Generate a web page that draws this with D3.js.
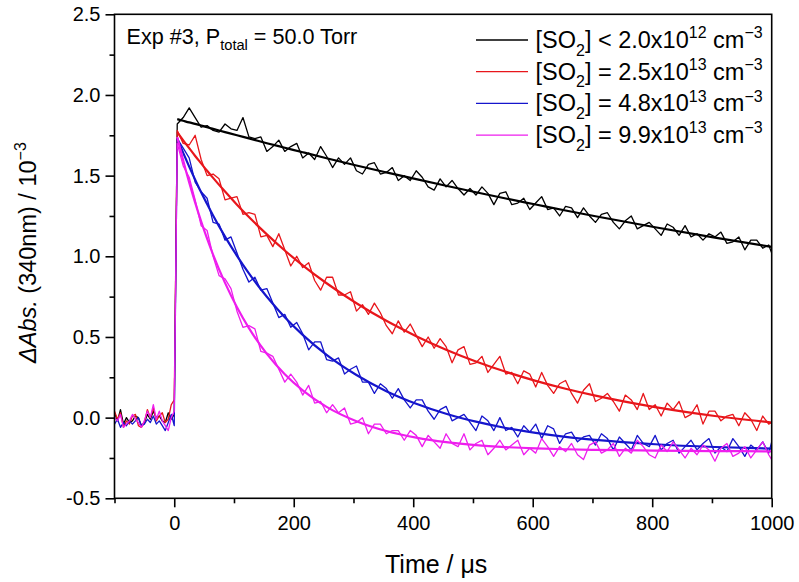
<!DOCTYPE html>
<html><head><meta charset="utf-8">
<script src="https://cdn.jsdelivr.net/npm/d3@7"></script>
<style>body{margin:0;background:#fff}svg{display:block}text{font-family:"Liberation Sans",Arial,sans-serif;fill:#000}</style>
</head><body>
<svg id="chart" width="799" height="582"></svg>
<script>
// ---- data (time in µs, ΔAbs in 10^-3) ----
const timeUs = [-100,-95,-90,-85,-80,-75,-70,-65,-60,-55,-50,-45,-40,-35,-30,-25,-20,-15,-10,-5,0,
5,15,25,35,45,55,65,75,85,95,105,115,125,135,145,155,165,175,185,195,205,215,225,235,245,255,265,275,285,295,
305,315,325,335,345,355,365,375,385,395,405,415,425,435,445,455,465,475,485,495,505,515,525,535,545,555,565,575,585,595,
605,615,625,635,645,655,665,675,685,695,705,715,725,735,745,755,765,775,785,795,805,815,825,835,845,855,865,875,885,895,
905,915,925,935,945,955,965,975,985,995,1000];

const absBlack = [0.03,-0.02,0.05,-0.04,0.00,-0.03,-0.02,0.01,0.00,-0.05,-0.03,0.02,-0.01,0.04,0.00,0.01,-0.02,-0.03,0.03,-0.01,0.02,
1.82,1.86,1.92,1.86,1.80,1.81,1.78,1.77,1.82,1.79,
1.78,1.86,1.74,1.73,1.74,1.65,1.68,1.72,1.65,1.68,
1.70,1.61,1.64,1.60,1.68,1.62,1.55,1.61,1.57,1.61,
1.53,1.51,1.57,1.58,1.51,1.52,1.55,1.47,1.50,1.47,
1.53,1.49,1.43,1.41,1.48,1.43,1.47,1.42,1.38,1.42,
1.38,1.43,1.39,1.32,1.39,1.40,1.32,1.33,1.36,1.29,
1.33,1.37,1.29,1.30,1.25,1.31,1.30,1.24,1.30,1.25,
1.21,1.26,1.27,1.21,1.17,1.22,1.25,1.17,1.19,1.21,
1.17,1.13,1.20,1.18,1.13,1.19,1.12,1.14,1.10,1.14,
1.12,1.15,1.08,1.09,1.12,1.04,1.10,1.10,1.05,1.07,
1.02];

const absRed = [0.04,-0.01,0.03,-0.06,-0.02,-0.04,0.01,0.02,-0.05,-0.06,-0.03,0.05,0.00,0.06,-0.02,0.01,0.03,-0.03,-0.01,0.08,0.11,
1.78,1.70,1.69,1.75,1.60,1.50,1.51,1.48,1.35,1.36,
1.37,1.26,1.27,1.26,1.12,1.13,1.06,1.14,1.04,0.94,
1.00,0.93,0.96,0.85,0.79,0.87,0.87,0.76,0.76,0.78,
0.66,0.70,0.64,0.71,0.65,0.57,0.52,0.60,0.53,0.58,
0.51,0.44,0.50,0.43,0.49,0.44,0.34,0.42,0.44,0.33,
0.34,0.38,0.28,0.33,0.38,0.27,0.28,0.21,0.29,0.27,
0.19,0.28,0.20,0.15,0.21,0.23,0.15,0.09,0.17,0.21,
0.10,0.12,0.15,0.10,0.04,0.14,0.11,0.05,0.15,0.05,
0.08,0.01,0.09,0.05,0.10,0.00,0.02,0.08,-0.04,0.04,
0.04,-0.02,0.01,0.02,-0.05,0.03,-0.01,-0.08,0.01,-0.04,
-0.03];

const absBlue = [-0.04,-0.01,-0.06,-0.03,-0.05,-0.02,-0.04,-0.02,0.00,-0.05,-0.04,-0.01,-0.03,0.01,-0.04,-0.02,-0.05,-0.08,-0.03,0.02,-0.05,
1.73,1.67,1.61,1.46,1.40,1.36,1.21,1.20,1.10,1.12,
1.02,0.92,0.84,0.87,0.79,0.80,0.71,0.62,0.64,0.56,
0.59,0.52,0.42,0.47,0.47,0.36,0.35,0.37,0.27,0.30,
0.32,0.22,0.22,0.15,0.21,0.18,0.12,0.18,0.11,0.06,
0.11,0.11,0.04,-0.01,0.05,0.07,-0.02,0.00,0.02,-0.03,
-0.08,0.01,-0.02,-0.08,0.00,-0.08,-0.06,-0.12,-0.05,-0.09,
-0.04,-0.13,-0.05,-0.07,-0.16,-0.10,-0.09,-0.15,-0.12,-0.11,
-0.17,-0.10,-0.13,-0.20,-0.12,-0.16,-0.20,-0.11,-0.16,-0.18,
-0.11,-0.20,-0.16,-0.14,-0.22,-0.18,-0.14,-0.20,-0.16,-0.13,
-0.22,-0.18,-0.21,-0.13,-0.18,-0.24,-0.17,-0.20,-0.15,-0.22,
-0.15];

const absMagenta = [0.00,-0.02,0.02,-0.06,-0.04,-0.02,0.02,-0.01,-0.03,-0.06,-0.02,0.04,0.00,0.08,-0.01,0.04,-0.02,-0.05,-0.08,0.00,0.04,
1.70,1.56,1.49,1.35,1.19,1.16,1.00,0.88,0.86,0.80,
0.66,0.56,0.57,0.55,0.41,0.40,0.38,0.30,0.22,0.27,
0.22,0.14,0.20,0.09,0.10,0.03,0.08,0.03,0.06,-0.04,
-0.03,0.00,-0.10,-0.04,-0.04,-0.10,-0.08,-0.08,-0.14,-0.08,
-0.11,-0.18,-0.11,-0.15,-0.19,-0.10,-0.16,-0.18,-0.10,-0.20,
-0.16,-0.14,-0.23,-0.19,-0.14,-0.20,-0.17,-0.14,-0.23,-0.19,
-0.22,-0.13,-0.18,-0.24,-0.18,-0.21,-0.16,-0.23,-0.26,-0.17,
-0.15,-0.22,-0.20,-0.16,-0.24,-0.19,-0.22,-0.14,-0.18,-0.23,
-0.25,-0.17,-0.21,-0.15,-0.20,-0.25,-0.19,-0.23,-0.17,-0.20,
-0.27,-0.19,-0.16,-0.24,-0.22,-0.18,-0.25,-0.20,-0.15,-0.23,
-0.26];

// fitted decay curves
const fitTime = [5,15,25,35,45,55,65,85,105,125,155,185,215,255,305,355,405,455,505,555,605,655,705,805,905,1000];
const fitBlack = [1.850,1.840,1.830,1.821,1.811,1.800,1.790,1.770,1.750,1.731,1.701,1.673,1.645,1.608,1.563,1.520,1.478,1.437,1.397,1.358,1.321,1.284,1.248,1.180,1.116,1.058];
const fitRed = [1.770,1.719,1.670,1.622,1.576,1.530,1.486,1.401,1.320,1.243,1.136,1.036,0.944,0.833,0.709,0.600,0.505,0.421,0.348,0.284,0.228,0.179,0.136,0.065,0.010,-0.030];
const fitBlue = [1.730,1.641,1.556,1.475,1.397,1.324,1.253,1.122,1.003,0.894,0.749,0.622,0.513,0.389,0.264,0.164,0.086,0.024,-0.025,-0.064,-0.094,-0.119,-0.138,-0.165,-0.182,-0.192];
const fitMagenta = [1.740,1.594,1.458,1.333,1.217,1.110,1.011,0.835,0.684,0.555,0.395,0.269,0.169,0.067,-0.022,-0.083,-0.124,-0.152,-0.171,-0.183,-0.191,-0.196,-0.200,-0.204,-0.207,-0.209];

const legendRelation = ["<","=","=","="];
const legendMantissa = ["2.0","2.5","4.8","9.9"];
const legendExponent = ["12","13","13","13"];

const xTicks = [0,200,400,600,800,1000];
const xMinorTicks = [-100,100,300,500,700,900];
const yTicks = [-0.5,0.0,0.5,1.0,1.5,2.0,2.5];
const yMinorTicks = [-0.25,0.25,0.75,1.25,1.75,2.25];

// ---- drawing ----
const colors = ["#000000","#e8161b","#1515cc","#ee1eee"];
const dataSets = [absBlack, absRed, absBlue, absMagenta];
const fitSets = [fitBlack, fitRed, fitBlue, fitMagenta];

const svg = d3.select("#chart");
const x = d3.scaleLinear().domain([-100,1000]).range([114.5,771.7]);
const y = d3.scaleLinear().domain([-0.5,2.5]).range([498.3,14.3]);

svg.append("clipPath").attr("id","clip").append("rect")
  .attr("x",x(-100)).attr("y",y(2.5)).attr("width",x(1000)-x(-100)).attr("height",y(-0.5)-y(2.5));

const plot = svg.append("g").attr("clip-path","url(#clip)");
const dataLine = d3.line().x((d,i)=>x(timeUs[i])).y(d=>y(d));
const fitLine = d3.line().x((d,i)=>x(fitTime[i])).y(d=>y(d)).curve(d3.curveMonotoneX);

dataSets.forEach((ds,k)=>{
  plot.append("path").attr("d",dataLine(ds)).attr("fill","none")
    .attr("stroke",colors[k]).attr("stroke-width",1.3).attr("stroke-linejoin","round");
  plot.append("path").attr("d",fitLine(fitSets[k])).attr("fill","none")
    .attr("stroke",colors[k]).attr("stroke-width",2.2).attr("stroke-linejoin","round");
});

// frame
svg.append("rect").attr("x",x(-100)).attr("y",y(2.5)).attr("width",x(1000)-x(-100)).attr("height",y(-0.5)-y(2.5))
  .attr("fill","none").attr("stroke","#000").attr("stroke-width",1.6);

const fmt = d => d.toFixed(1);
const gx = svg.append("g").attr("transform",`translate(0,${y(-0.5)})`)
  .call(d3.axisBottom(x).tickValues(xTicks).tickSize(9).tickSizeOuter(0).tickPadding(9).tickFormat(d=>String(d)));
const gxm = svg.append("g").attr("transform",`translate(0,${y(-0.5)})`)
  .call(d3.axisBottom(x).tickValues(xMinorTicks).tickSize(5).tickSizeOuter(0).tickFormat(""));
const gy = svg.append("g").attr("transform",`translate(${x(-100)},0)`)
  .call(d3.axisLeft(y).tickValues(yTicks).tickSize(9).tickSizeOuter(0).tickPadding(5).tickFormat(fmt));
const gym = svg.append("g").attr("transform",`translate(${x(-100)},0)`)
  .call(d3.axisLeft(y).tickValues(yMinorTicks).tickSize(5).tickSizeOuter(0).tickFormat(""));
[gx,gxm,gy,gym].forEach(g=>{
  g.select(".domain").remove();
  g.selectAll(".tick line").attr("stroke","#000").attr("stroke-width",1.6);
  g.selectAll("text").attr("font-size",20).attr("font-family","Liberation Sans, Arial, sans-serif").attr("fill","#000");
});

// rich text helper
function rich(sel, parts, size){
  let off = 0;
  parts.forEach(p=>{
    const target = p.s==="sub" ? size*0.32 : p.s==="sup" ? -size*0.42 : 0;
    const ts = sel.append("tspan").attr("dy", target-off).attr("font-size", p.s ? size*0.68 : size).text(p.t);
    if(p.i) ts.attr("font-style","italic");
    off = target;
  });
}

// annotation
rich(svg.append("text").attr("x",126.5).attr("y",43.5), [
  {t:"Exp #3, P"},{t:"total",s:"sub"},{t:" = 50.0 Torr"}], 21.6);

// legend
const legendY0 = 48, legendDy = 31.7;
legendMantissa.forEach((m,k)=>{
  const by = legendY0 + k*legendDy;
  svg.append("line").attr("x1",476).attr("x2",528).attr("y1",by-8).attr("y2",by-8)
    .attr("stroke",colors[k]).attr("stroke-width",1.3);
  rich(svg.append("text").attr("x",535.5).attr("y",by), [
    {t:"[SO"},{t:"2",s:"sub"},{t:"] "+legendRelation[k]+" "+m+"x10"},{t:legendExponent[k],s:"sup"},
    {t:" cm"},{t:"\u22123",s:"sup"}], 23.5);
});

// axis titles
rich(svg.append("text").attr("x",385).attr("y",573), [{t:"Time / \u03bcs"}], 25);
rich(svg.append("text").attr("transform","translate(35.5,363) rotate(-90)"), [
  {t:"\u0394Abs.",i:true},{t:" (340nm) / 10"},{t:"\u22123",s:"sup"}], 23.5);
</script>
</body></html>
